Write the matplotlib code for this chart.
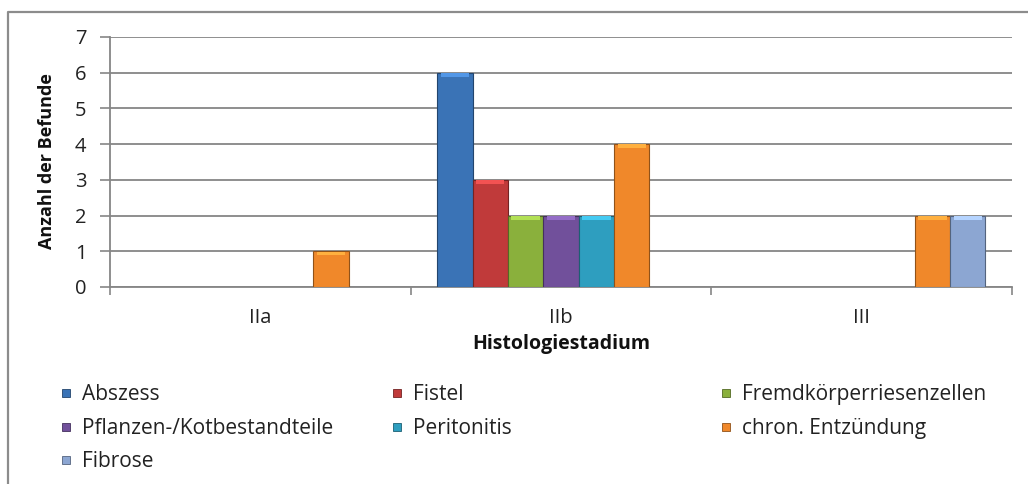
import numpy as np
import matplotlib
matplotlib.use("Agg")
import matplotlib.pyplot as plt
from matplotlib.patches import Rectangle
from matplotlib.lines import Line2D
import matplotlib.colors as mc

# data
stages = ["IIa", "IIb", "III"]
series = ["Abszess", "Fistel", "Fremdkörperriesenzellen",
          "Pflanzen-/Kotbestandteile", "Peritonitis", "chron. Entzündung", "Fibrose"]
abszess = [np.nan, 6, np.nan]
fistel = [np.nan, 3, np.nan]
fremdkoerper = [np.nan, 2, np.nan]
pflanzen = [np.nan, 2, np.nan]
peritonitis = [np.nan, 2, np.nan]
chron = [1, 4, 2]
fibrose = [np.nan, np.nan, 2]
values = [abszess, fistel, fremdkoerper, pflanzen, peritonitis, chron, fibrose]

colors = ["#3a73b6", "#c03a3a", "#8ab03c", "#71509b", "#2e9ebf", "#f0882a", "#8ca6d2"]

plt.rcParams["font.family"] = ["Open Sans", "DejaVu Sans"]

W, H = 1028, 484
fig = plt.figure(figsize=(W / 100, H / 100), dpi=100)
ax = fig.add_axes([110 / W, 1 - 287 / H, (1012 - 110) / W, (287 - 37) / H])

n = len(series)
bw = 1 / (n + 1.5)
x = np.arange(len(stages))
for i, (vals, c) in enumerate(zip(values, colors)):
    pos = x - 0.5 + 0.75 * bw + (i + 0.5) * bw
    dark = np.array(mc.to_rgb(c)) * 0.6
    light = np.clip(np.array(mc.to_rgb(c)) * 1.2 + 0.05, 0, 1)
    ax.bar(pos, vals, width=bw, color=c, edgecolor=dark, linewidth=0.8, zorder=3)
    # light bevel on top of each bar
    v = np.array(vals, dtype=float)
    ax.bar(pos, np.where(np.isnan(v), np.nan, 0.1), bottom=v - 0.11, width=bw * 0.8,
           color=light, linewidth=0, zorder=4)

ax.set_xlim(-0.5, len(stages) - 0.5)
ax.set_ylim(0, 7)
ax.set_yticks(range(8))
ax.set_xticks(x)
ax.set_xticklabels(stages)
ax.set_xticks(np.arange(len(stages) + 1) - 0.5, minor=True)
ax.tick_params(axis="x", which="major", length=0, pad=15, labelsize=14.5, colors="#222222")
ax.tick_params(axis="x", which="minor", length=6, color="#868686", width=1.2)
ax.tick_params(axis="y", length=7, color="#868686", width=1.2, pad=10, labelsize=14.5,
               labelcolor="#222222")
ax.grid(axis="y", color="#8e8e8e", linewidth=1.4, zorder=0)
for s in ["top", "right"]:
    ax.spines[s].set_visible(False)
for s in ["left", "bottom"]:
    ax.spines[s].set_color("#868686")
    ax.spines[s].set_linewidth(1.3)

fig.text(47 / W, 1 - 161 / H, "Anzahl der Befunde", rotation=90, ha="center", va="center",
         fontsize=13, fontweight="bold", color="#111111")
fig.text(561 / W, 1 - 344 / H, "Histologiestadium", ha="center", va="center",
         fontsize=14, fontweight="bold", color="#111111")

# legend, 3 columns
col_x = [62, 393, 722]
row_y = [393, 427, 460]
for i, (name, c) in enumerate(zip(series, colors)):
    cx = col_x[i % 3]
    cy = row_y[i // 3]
    fig.patches.append(Rectangle((cx / W, 1 - (cy + 4) / H), 8 / W, 8 / H,
                                 transform=fig.transFigure, facecolor=c,
                                 edgecolor=np.array(mc.to_rgb(c)) * 0.6, linewidth=0.6))
    fig.text((cx + 20) / W, 1 - (cy + 7) / H, name, ha="left", va="baseline",
             fontsize=15, color="#222222")

# outer chart frame (only top/left visible)
fig.add_artist(Line2D([8 / W, 8 / W, 1.0], [0.0, 1 - 12 / H, 1 - 12 / H],
                      transform=fig.transFigure, color="#8c8c8c", linewidth=1.6))

fig.savefig("out.png", dpi=100)
